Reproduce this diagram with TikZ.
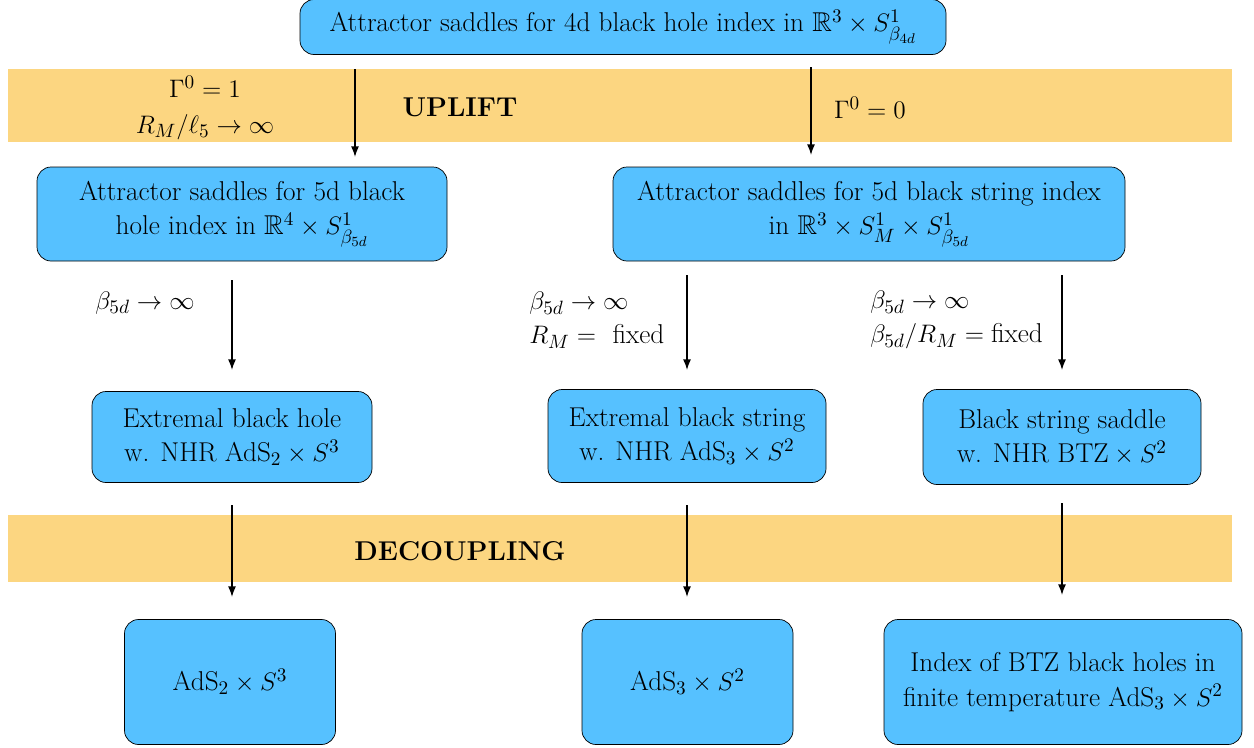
\documentclass[tikz,border=0pt]{standalone}
\usepackage{amsmath,amssymb}
\usetikzlibrary{positioning,arrows.meta}
\definecolor{boxblue}{RGB}{86,193,255}
\definecolor{bandorange}{RGB}{252,214,129}
\begin{document}
\begin{tikzpicture}[
                >={Latex[length=6pt,width=4.5pt]},
                font=\fontsize{15.5}{19.5}\selectfont,
                saddle/.style={draw, rectangle, rounded corners=8pt, fill=boxblue, align=center, inner sep=2pt},
                band/.style={fill=bandorange, draw=none},
                flow/.style={->, thick}
                ]

                \useasboundingbox (0,0) rectangle (25.08,-14.94);

                % bands
                \fill[band] (0.16,-1.38) rectangle (24.64,-2.84);
                \fill[band] (0.16,-10.3) rectangle (24.64,-11.64);

                \node [saddle, minimum width=12.92cm, minimum height=1.1cm] (top) at (12.46,-0.54) {Attractor saddles for 4d black hole index in $\mathbb{R}^3\times S^1_{\beta_{4d}}$};

                \node [saddle, minimum width=8.2cm, minimum height=1.88cm] (hole5) at (4.84,-4.28) {Attractor saddles for 5d black\\ hole index in $\mathbb{R}^4\times S^1_{\beta_{5d}}$};
                \node [saddle, minimum width=10.24cm, minimum height=1.88cm] (string5) at (17.38,-4.28) {Attractor saddles for 5d black string index\\ in $\mathbb{R}^3\times S^1_M\times S^1_{\beta_{5d}}$};

                \node [saddle, minimum width=5.6cm, minimum height=1.82cm] (exthole) at (4.64,-8.74) {Extremal black hole\\ w. NHR AdS$_2\times S^3$};
                \node [saddle, minimum width=5.56cm, minimum height=1.86cm] (extstring) at (13.74,-8.72) {Extremal black string\\ w. NHR AdS$_3\times S^2$};
                \node [saddle, minimum width=5.56cm, minimum height=1.9cm] (btzsaddle) at (21.24,-8.74) {Black string saddle\\ w. NHR $\text{BTZ}\times S^2$};

                \node [saddle, minimum width=4.22cm, minimum height=2.5cm] (adstwo) at (4.6,-13.64) {AdS$_2\times S^3$};
                \node [saddle, minimum width=4.22cm, minimum height=2.5cm] (adsthree) at (13.75,-13.64) {AdS$_3\times S^2$};
                \node [saddle, minimum width=7.16cm, minimum height=2.5cm] (btzindex) at (21.26,-13.64) {Index of BTZ black holes in\\ finite temperature AdS$_3\times S^2$};

                % band titles
                \node (uplift) at (9.2,-2.14) {\textbf{UPLIFT}};
                \node (decoupling) at (9.2,-11.02) {\textbf{DECOUPLING}};

                % limits
                \node (gone) at (4.1,-1.74) {$\Gamma^0=1$};
                \node (ratio) at (4.1,-2.54) {$R_M/\ell_5\to\infty$};
                \node (gzero) at (17.4,-2.16) {$\Gamma^0=0$};
                \node (betaone) at (2.9,-6.06) {$\beta_{5d}\to\infty$};
                \node [align=left, anchor=west, inner sep=0pt] (betatwo) at (10.58,-6.4) {$\beta_{5d}\to\infty$\\ $R_M=$ \ fixed};
                \node [align=left, anchor=west, inner sep=0pt] (betathree) at (17.4,-6.4) {$\beta_{5d}\to\infty$\\ $\beta_{5d}/R_M=\text{fixed}$};

                % arrow ends
                \coordinate (u1s) at (7.1,-1.38);   \coordinate (u1e) at (7.1,-3.14);
                \coordinate (u2s) at (16.22,-1.34); \coordinate (u2e) at (16.22,-3.1);
                \coordinate (l1s) at (4.64,-5.6);   \coordinate (l1e) at (4.64,-7.4);
                \coordinate (l2s) at (13.74,-5.5);  \coordinate (l2e) at (13.74,-7.4);
                \coordinate (l3s) at (21.24,-5.5);  \coordinate (l3e) at (21.24,-7.4);
                \coordinate (d1s) at (4.64,-10.1);  \coordinate (d1e) at (4.64,-11.94);
                \coordinate (d2s) at (13.74,-10.1); \coordinate (d2e) at (13.74,-11.94);
                \coordinate (d3s) at (21.24,-10.06); \coordinate (d3e) at (21.24,-11.9);

                \draw[flow] (u1s) -- (u1e);
                \draw[flow] (u2s) -- (u2e);
                \draw[flow] (l1s) -- (l1e);
                \draw[flow] (l2s) -- (l2e);
                \draw[flow] (l3s) -- (l3e);
                \draw[flow] (d1s) -- (d1e);
                \draw[flow] (d2s) -- (d2e);
                \draw[flow] (d3s) -- (d3e);
            \end{tikzpicture}
\end{document}
